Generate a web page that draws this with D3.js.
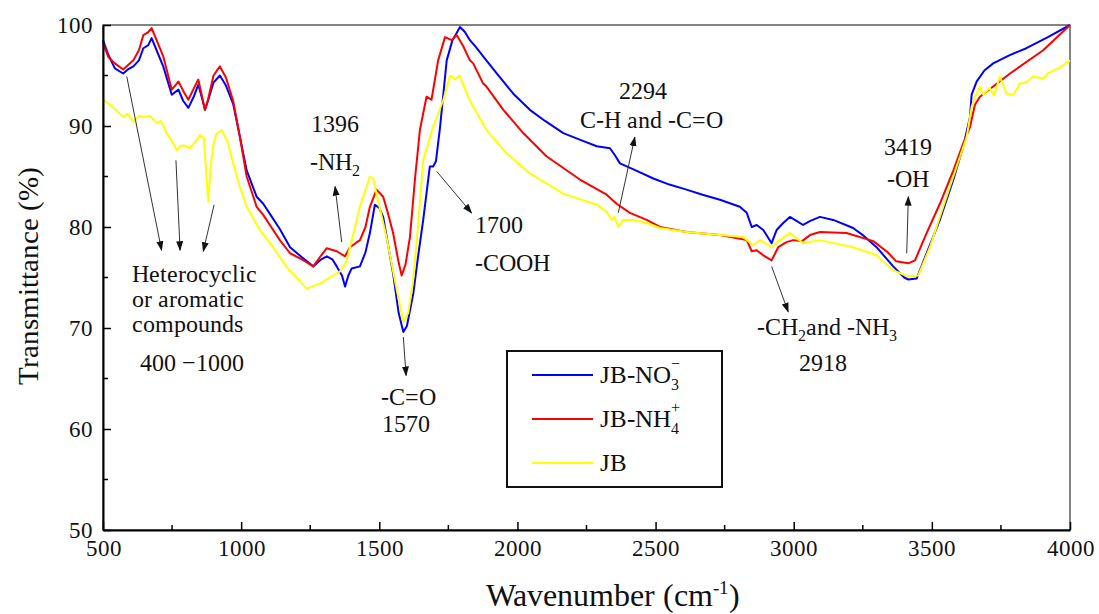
<!DOCTYPE html>
<html>
<head>
<meta charset="utf-8">
<script src="https://d3js.org/d3.v7.min.js"></script>
<style>
  @font-face { font-family: "ChartSerif"; src: local("Liberation Serif"), local("LiberationSerif-Regular"), local("Times New Roman"); }
  body { margin: 0; background: #fff; }
</style>
</head>
<body>
<div id="vis"></div>
<script>
// spectra: wavenumber (cm-1) and transmittance (%)
var blueWn = [500,520,543,573,590,610,630,646,664,676,694,718,749,773,790,809,830,845,858,869,880,900,923,945,971,995,1020,1056,1080,1104,1140,1177,1220,1261,1290,1310,1330,1346,1365,1376,1388,1400,1430,1450,1466,1484,1500,1514,1530,1550,1570,1587,1600,1623,1640,1659,1683,1695,1705,1720,1744,1765,1780,1792,1810,1828,1850,1876,1925,1985,2045,2100,2166,2230,2287,2335,2353,2371,2420,2492,2550,2612,2670,2733,2805,2830,2848,2866,2890,2920,2938,2962,2986,3010,3034,3060,3095,3143,3215,3250,3300,3360,3400,3415,3445,3481,3529,3578,3614,3638,3644,3662,3690,3722,3780,3842,3920,4000];
var blueT  = [98.5,97.0,95.7,95.2,95.6,95.9,96.5,97.7,98.0,98.7,97.5,95.9,93.1,93.6,92.5,91.8,93.0,94.1,92.8,91.6,92.5,94.3,95.0,94.0,92.2,89.0,85.6,83.0,82.3,81.3,79.8,78.0,77.0,76.1,76.8,77.1,76.8,76.1,75.2,74.1,75.2,75.9,76.1,77.5,79.4,82.2,81.9,81.0,78.5,75.4,71.5,69.6,70.2,73.4,77.0,80.7,86.0,86.0,86.5,89.9,96.5,98.5,99.2,99.8,99.3,98.5,97.8,96.9,95.2,93.2,91.6,90.5,89.3,88.6,88.0,87.8,87.1,86.3,85.7,84.8,84.2,83.7,83.2,82.7,82.0,81.4,80.0,80.2,79.7,78.4,79.7,80.4,81.0,80.6,80.2,80.6,81.0,80.7,79.9,79.2,78.0,76.1,75.0,74.8,74.9,77.4,80.7,84.7,88.0,90.9,93.1,94.4,95.5,96.2,97.0,97.7,98.8,100];

var redWn = [500,520,543,573,610,630,646,664,676,694,718,749,773,790,809,830,845,858,869,880,900,923,945,971,995,1020,1056,1080,1104,1140,1177,1220,1261,1290,1310,1346,1376,1394,1430,1450,1466,1490,1514,1530,1550,1570,1581,1595,1611,1630,1647,1671,1689,1713,1738,1762,1780,1804,1828,1840,1876,1888,1949,2021,2105,2226,2323,2359,2407,2468,2516,2612,2733,2830,2848,2866,2890,2920,2944,2974,2998,3030,3059,3095,3191,3288,3340,3371,3415,3439,3481,3529,3578,3614,3638,3656,3674,3783,3903,4000];
var redT  = [98.2,96.8,96.2,95.6,96.5,97.5,99.0,99.3,99.7,98.5,96.9,93.6,94.4,93.5,92.6,93.8,94.6,93.0,91.6,92.6,95.0,95.9,94.8,92.5,89.0,85.0,82.0,81.2,80.2,78.7,77.4,76.8,76.1,77.2,77.9,77.6,77.1,78.0,78.7,80.0,82.0,83.7,83.0,81.5,79.4,76.5,75.2,76.3,79.0,85.0,89.6,92.9,92.6,96.5,98.8,98.5,99.0,97.9,96.5,96.2,94.2,93.9,91.6,89.3,87.0,84.7,83.2,82.3,81.4,80.7,80.0,79.5,79.2,78.7,77.6,77.7,77.2,76.7,78.0,78.5,78.7,78.6,79.2,79.5,79.4,78.6,77.5,76.6,76.4,76.7,79.4,82.3,85.6,88.3,89.9,92.1,92.9,95.2,97.5,100];

var yellowWn = [500,525,550,573,590,610,630,646,670,694,710,730,750,767,780,791,815,835,851,865,872,881,890,899,910,929,950,971,995,1020,1068,1116,1165,1200,1237,1285,1327,1358,1380,1394,1430,1466,1478,1490,1526,1563,1587,1605,1623,1640,1659,1695,1732,1756,1774,1790,1828,1888,1961,2045,2166,2287,2323,2341,2352,2365,2383,2420,2468,2516,2612,2733,2818,2854,2878,2920,2950,2986,3010,3034,3095,3215,3300,3360,3415,3451,3493,3541,3590,3626,3644,3656,3674,3686,3710,3725,3746,3770,3795,3819,3840,3867,3903,3920,3940,3965,4000];
var yellowT  = [92.6,92.1,91.5,90.9,91.2,90.4,91.0,90.9,91.0,90.3,90.5,89.3,88.5,87.6,88.0,88.1,87.8,88.5,89.1,88.8,86.0,82.5,86.0,88.0,89.2,89.6,88.5,86.3,84.0,82.0,79.7,78.0,76.0,75.0,73.9,74.4,75.1,75.6,76.5,78.0,82.0,85.0,84.8,83.3,79.0,73.8,70.6,71.5,74.8,80.0,86.6,89.9,92.6,95.0,94.6,95.0,92.5,89.6,87.3,85.3,83.3,82.2,81.5,80.7,81.0,80.0,80.7,80.7,80.4,79.9,79.5,79.2,79.0,78.2,78.7,78.0,78.7,79.4,78.9,78.4,78.7,78.0,77.2,75.7,75.1,75.2,78.0,82.0,86.0,88.9,91.9,92.9,93.9,93.1,93.8,93.0,94.9,93.2,93.1,94.2,94.3,94.9,94.7,95.2,95.5,95.8,96.5];

var seriesNames = ["JB-NO3-", "JB-NH4+", "JB"];
var seriesColors = ["#0000ff", "#ff0000", "#ffff00"];

var xTicks = [500, 1000, 1500, 2000, 2500, 3000, 3500, 4000];
var xMinor = [750, 1250, 1750, 2250, 2750, 3250, 3750];
var yTicks = [50, 60, 70, 80, 90, 100];
var yMinor = [55, 65, 75, 85, 95];

var fontStack = '"ChartSerif", "Liberation Serif", "Times New Roman", serif';

var margin = {top: 25, right: 29, bottom: 84, left: 103},
    width = 1099 - margin.left - margin.right,
    height = 614 - margin.top - margin.bottom;

const svg = d3.select("#vis")
  .append("svg")
  .attr("width", 1099)
  .attr("height", 614);

const g = svg.append("g")
  .attr("transform", `translate(${margin.left},${margin.top})`);

const x = d3.scaleLinear().domain([500, 4000]).range([0, width]);
const y = d3.scaleLinear().domain([50, 100]).range([height, 0]);

// frame
g.append("rect")
  .attr("width", width)
  .attr("height", height)
  .attr("fill", "none")
  .attr("stroke", "#333")
  .attr("stroke-width", 1.2);

// spectra
var series = [
  {wn: blueWn, t: blueT},
  {wn: redWn, t: redT},
  {wn: yellowWn, t: yellowT}
];

const path = d3.line()
  .x(d => x(d[0]))
  .y(d => y(d[1]));

g.selectAll(".spec")
  .data(series)
  .join("path")
  .attr("class", "spec")
  .attr("fill", "none")
  .attr("stroke", (d, i) => seriesColors[i])
  .attr("stroke-width", 2)
  .attr("stroke-linejoin", "round")
  .attr("d", d => path(d.wn.map((w, i) => [w, d.t[i]])));

// axes, ticks pointing inward
const xAxis = g.append("g")
  .attr("transform", `translate(0,${height})`)
  .call(d3.axisBottom(x).tickValues(xTicks).tickSize(-8).tickSizeOuter(0).tickPadding(10).tickFormat(d3.format("d")));
xAxis.append("g").selectAll("line")
  .data(xMinor).join("line")
  .attr("x1", d => x(d)).attr("x2", d => x(d))
  .attr("y1", 0).attr("y2", -5)
  .attr("stroke", "#000").attr("stroke-width", 1.5);

const yAxis = g.append("g")
  .call(d3.axisLeft(y).tickValues(yTicks).tickSize(-8).tickSizeOuter(0).tickPadding(10));
yAxis.append("g").selectAll("line")
  .data(yMinor).join("line")
  .attr("y1", d => y(d)).attr("y2", d => y(d))
  .attr("x1", 0).attr("x2", 5)
  .attr("stroke", "#000").attr("stroke-width", 1.5);

[xAxis, yAxis].forEach(a => {
  a.attr("font-family", null);
  a.selectAll(".tick text")
    .style("font-family", fontStack)
    .style("font-size", "23px")
    .attr("fill", "#111");
  a.select(".domain").attr("stroke-width", 2);
  a.selectAll(".tick line").attr("stroke-width", 1.5);
});

// axis titles
const xt = svg.append("text")
  .attr("x", margin.left + width / 2 + 26)
  .attr("y", 606)
  .attr("text-anchor", "middle")
  .style("font-family", fontStack)
  .style("font-size", "32px")
  .attr("fill", "#111");
xt.append("tspan").text("Wavenumber (cm");
xt.append("tspan").attr("dy", -12).style("font-size", "19px").text("-1");
xt.append("tspan").attr("dy", 12).text(")");

svg.append("text")
  .attr("transform", "translate(38,276) rotate(-90)")
  .attr("text-anchor", "middle")
  .style("font-family", fontStack)
  .style("font-size", "29px")
  .attr("fill", "#111")
  .text("Transmittance (%)");

// annotations, placed in data coordinates
function label(w, t, anchor, parts) {
  const el = g.append("text")
    .attr("x", x(w)).attr("y", y(t))
    .attr("text-anchor", anchor)
    .style("font-family", fontStack)
    .style("font-size", "24px")
    .attr("fill", "#111");
  parts.forEach(p => {
    if (typeof p === "string") el.append("tspan").text(p);
    else if (p.sub) el.append("tspan").attr("dy", 6).style("font-size", "16px").text(p.sub);
    else el.append("tspan").attr("dy", p.dy).text(p.s);
  });
  return el;
}

label(1340, 89.4, "middle", ["1396"]);
label(1340, 85.6, "middle", ["-NH", {sub: "2"}]);
label(605, 74.6, "start", ["Heterocyclic"]);
label(605, 72.1, "start", ["or aromatic"]);
label(605, 69.6, "start", ["compounds"]);
label(634, 65.7, "start", ["400 \u22121000"]);
label(1604, 62.4, "middle", ["-C=O"]);
label(1597, 59.7, "middle", ["1570"]);
label(1846, 79.4, "start", ["1700"]);
label(1846, 75.6, "start", ["-COOH"]);
label(2454, 92.7, "middle", ["2294"]);
label(2487, 89.8, "middle", ["C-H and -C=O"]);
label(3414, 87.1, "middle", ["3419"]);
label(3414, 84.0, "middle", ["-OH"]);
label(3119, 69.3, "middle", ["-CH", {sub: "2"}, {s: "and -NH", dy: -6}, {sub: "3"}]);
label(3106, 65.7, "middle", ["2918"]);

// arrows: tail -> head, in data coordinates
var arrows = [
  [[1364, 78.5], [1340, 84.0]],
  [[586, 94.9], [712, 77.7]],
  [[764, 86.6], [779, 77.7]],
  [[902, 82.2], [863, 77.6]],
  [[1587, 69.1], [1597, 65.3]],
  [[1708, 85.5], [1834, 81.4]],
  [[2365, 81.4], [2425, 88.9]],
  [[3409, 77.4], [3415, 83.0]],
  [[2920, 76.1], [2980, 71.6]]
];

svg.append("defs").append("marker")
  .attr("id", "head")
  .attr("viewBox", "0 0 10 10")
  .attr("refX", 9).attr("refY", 5)
  .attr("markerWidth", 10).attr("markerHeight", 10)
  .attr("markerUnits", "userSpaceOnUse")
  .attr("orient", "auto")
  .append("path")
  .attr("d", "M0,1.5 L10,5 L0,8.5 Z")
  .attr("fill", "#111");

g.selectAll(".arrow")
  .data(arrows)
  .join("line")
  .attr("class", "arrow")
  .attr("x1", d => x(d[0][0])).attr("y1", d => y(d[0][1]))
  .attr("x2", d => x(d[1][0])).attr("y2", d => y(d[1][1]))
  .attr("stroke", "#333")
  .attr("stroke-width", 1)
  .attr("marker-end", "url(#head)");

// legend
const legend = svg.append("g").attr("transform", "translate(507,351)");
legend.append("rect")
  .attr("width", 215).attr("height", 136)
  .attr("fill", "#fff")
  .attr("stroke", "#111")
  .attr("stroke-width", 2);

const rows = legend.selectAll(".row")
  .data(seriesNames)
  .join("g")
  .attr("class", "row")
  .attr("transform", (d, i) => `translate(0,${24 + i * 44})`);
rows.append("line")
  .attr("x1", 25).attr("x2", 86)
  .attr("stroke", (d, i) => seriesColors[i])
  .attr("stroke-width", 2);

const lt = rows.append("text")
  .attr("x", 93).attr("y", 8)
  .style("font-family", fontStack)
  .style("font-size", "25px")
  .attr("fill", "#111");
lt.each(function (d) {
  const el = d3.select(this);
  if (d === "JB") { el.text("JB"); return; }
  const sub = d === "JB-NO3-" ? "3" : "4";
  const sup = d === "JB-NO3-" ? "\u2212" : "+";
  el.append("tspan").text(d.slice(0, 5));
  el.append("tspan").attr("dy", 7).style("font-size", "16px").text(sub);
  el.append("tspan").attr("dx", -8).attr("dy", -21).style("font-size", "16px").text(sup);
});
</script>
</body>
</html>
